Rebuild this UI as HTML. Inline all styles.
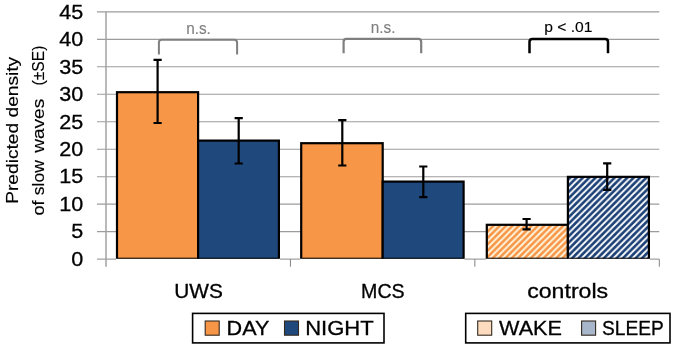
<!DOCTYPE html>
<html><head><meta charset="utf-8"><title>Predicted density of slow waves</title>
<style>
html,body{margin:0;padding:0;background:#fff;}
svg{display:block;}
text{font-family:"Liberation Sans",sans-serif;stroke-width:0.3px;}
text[fill="#000"]{stroke:#000;}
text[fill="#808080"]{stroke:#808080;}
.t{filter:grayscale(1);}
</style></head><body>
<svg width="675" height="348" viewBox="0 0 675 348">
<defs>
<pattern id="ho" patternUnits="userSpaceOnUse" x="4.8" y="0" width="6.35" height="6.35"><rect width="6.35" height="6.35" fill="#f79646"/><path d="M-1.587,1.587 L1.587,-1.587 M0,6.35 L6.35,0 M4.762,7.938 L7.938,4.762" stroke="#fff6e0" stroke-width="1.9" fill="none"/></pattern>
<pattern id="hb" patternUnits="userSpaceOnUse" x="1.7" y="0" width="6.35" height="6.35"><rect width="6.35" height="6.35" fill="#1b4076"/><path d="M-1.587,1.587 L1.587,-1.587 M0,6.35 L6.35,0 M4.762,7.938 L7.938,4.762" stroke="#ffffff" stroke-width="1.8" fill="none"/></pattern>
</defs>
<rect width="675" height="348" fill="#ffffff"/>

<line x1="97.0" y1="231.71" x2="659.3" y2="231.71" stroke="#9c9c9c" stroke-width="1.2"/>
<line x1="97.0" y1="204.22" x2="659.3" y2="204.22" stroke="#9c9c9c" stroke-width="1.2"/>
<line x1="97.0" y1="176.73" x2="659.3" y2="176.73" stroke="#9c9c9c" stroke-width="1.2"/>
<line x1="97.0" y1="149.24" x2="659.3" y2="149.24" stroke="#9c9c9c" stroke-width="1.2"/>
<line x1="97.0" y1="121.75" x2="659.3" y2="121.75" stroke="#9c9c9c" stroke-width="1.2"/>
<line x1="97.0" y1="94.26" x2="659.3" y2="94.26" stroke="#9c9c9c" stroke-width="1.2"/>
<line x1="97.0" y1="66.77" x2="659.3" y2="66.77" stroke="#9c9c9c" stroke-width="1.2"/>
<line x1="97.0" y1="39.28" x2="659.3" y2="39.28" stroke="#9c9c9c" stroke-width="1.2"/>
<line x1="97.0" y1="11.79" x2="659.3" y2="11.79" stroke="#9c9c9c" stroke-width="1.2"/>
<line x1="97.0" y1="259.09999999999997" x2="659.3" y2="259.09999999999997" stroke="#8a8a8a" stroke-width="1.0"/>
<line x1="106.0" y1="11.79" x2="106.0" y2="266.7" stroke="#a2a2a2" stroke-width="1.5"/>
<line x1="290.43" y1="259.2" x2="290.43" y2="266.7" stroke="#808080" stroke-width="1.0"/>
<line x1="474.87" y1="259.2" x2="474.87" y2="266.7" stroke="#808080" stroke-width="1.0"/>
<line x1="659.30" y1="259.2" x2="659.30" y2="266.7" stroke="#808080" stroke-width="1.0"/>
<g class="t">
<text x="83.3" y="265.70" font-size="20.3" text-anchor="end" textLength="12.0" lengthAdjust="spacingAndGlyphs" fill="#000">0</text>
<text x="83.3" y="238.29" font-size="20.3" text-anchor="end" textLength="12.0" lengthAdjust="spacingAndGlyphs" fill="#000">5</text>
<text x="83.3" y="210.88" font-size="20.3" text-anchor="end" textLength="24.0" lengthAdjust="spacingAndGlyphs" fill="#000">10</text>
<text x="83.3" y="183.47" font-size="20.3" text-anchor="end" textLength="24.0" lengthAdjust="spacingAndGlyphs" fill="#000">15</text>
<text x="83.3" y="156.06" font-size="20.3" text-anchor="end" textLength="24.0" lengthAdjust="spacingAndGlyphs" fill="#000">20</text>
<text x="83.3" y="128.65" font-size="20.3" text-anchor="end" textLength="24.0" lengthAdjust="spacingAndGlyphs" fill="#000">25</text>
<text x="83.3" y="101.24" font-size="20.3" text-anchor="end" textLength="24.0" lengthAdjust="spacingAndGlyphs" fill="#000">30</text>
<text x="83.3" y="73.83" font-size="20.3" text-anchor="end" textLength="24.0" lengthAdjust="spacingAndGlyphs" fill="#000">35</text>
<text x="83.3" y="46.42" font-size="20.3" text-anchor="end" textLength="24.0" lengthAdjust="spacingAndGlyphs" fill="#000">40</text>
<text x="83.3" y="19.01" font-size="20.3" text-anchor="end" textLength="24.0" lengthAdjust="spacingAndGlyphs" fill="#000">45</text>
</g>
<clipPath id="cp"><rect x="0" y="0" width="675" height="258.8"/></clipPath>
<rect x="116" y="255" width="163.9" height="6" fill="#fff"/><rect x="300.2" y="255" width="164.4" height="6" fill="#fff"/><rect x="485.8" y="255" width="164.1" height="6" fill="#fff"/>
<g clip-path="url(#cp)">
<rect x="117.0" y="92.20" width="81.10" height="166.60" fill="#f79646" stroke="#000" stroke-width="2.2"/>
<rect x="198.1" y="140.60" width="80.80" height="118.20" fill="#1f497d" stroke="#000" stroke-width="2.2"/>
<rect x="301.2" y="143.20" width="81.50" height="115.60" fill="#f79646" stroke="#000" stroke-width="2.2"/>
<rect x="382.7" y="181.60" width="80.90" height="77.20" fill="#1f497d" stroke="#000" stroke-width="2.2"/>
<rect x="486.8" y="224.80" width="81.10" height="34.00" fill="url(#ho)" stroke="#000" stroke-width="2.2"/>
<rect x="567.9" y="176.85" width="81.00" height="81.95" fill="url(#hb)" stroke="#000" stroke-width="2.2"/>
</g>
<path d="M157.6,59.9 L157.6,123.0 M153.5,59.9 L161.7,59.9 M153.5,123.0 L161.7,123.0" stroke="#000" stroke-width="2.2" fill="none"/>
<path d="M238.7,118.1 L238.7,163.5 M234.6,118.1 L242.79999999999998,118.1 M234.6,163.5 L242.79999999999998,163.5" stroke="#000" stroke-width="2.2" fill="none"/>
<path d="M342.3,120.1 L342.3,165.5 M338.2,120.1 L346.40000000000003,120.1 M338.2,165.5 L346.40000000000003,165.5" stroke="#000" stroke-width="2.2" fill="none"/>
<path d="M423.3,166.5 L423.3,197.2 M419.2,166.5 L427.40000000000003,166.5 M419.2,197.2 L427.40000000000003,197.2" stroke="#000" stroke-width="2.2" fill="none"/>
<path d="M526.6,219.0 L526.6,229.4 M522.5,219.0 L530.7,219.0 M522.5,229.4 L530.7,229.4" stroke="#000" stroke-width="2.2" fill="none"/>
<path d="M607.2,163.3 L607.2,189.9 M603.1,163.3 L611.3000000000001,163.3 M603.1,189.9 L611.3000000000001,189.9" stroke="#000" stroke-width="2.2" fill="none"/>
<path d="M158.9,54.4 L158.9,42.5 Q158.9,39.7 161.70000000000002,39.7 L234.29999999999998,39.7 Q237.1,39.7 237.1,42.5 L237.1,54.4" stroke="#7f7f7f" stroke-width="2.0" fill="none"/>
<path d="M343.6,53.3 L343.6,41.699999999999996 Q343.6,38.9 346.40000000000003,38.9 L418.4,38.9 Q421.2,38.9 421.2,41.699999999999996 L421.2,53.3" stroke="#7f7f7f" stroke-width="2.2" fill="none"/>
<path d="M529.5,53.3 L529.5,41.699999999999996 Q529.5,38.9 532.3,38.9 L605.2,38.9 Q608.0,38.9 608.0,41.699999999999996 L608.0,53.3" stroke="#000" stroke-width="2.5" fill="none"/>
<g class="t">
<text x="186.2" y="34.2" font-size="16.8" textLength="24.7" lengthAdjust="spacingAndGlyphs" fill="#808080" style="stroke-width:0.15px">n.s.</text>
<text x="370.8" y="32.9" font-size="16.8" textLength="24.7" lengthAdjust="spacingAndGlyphs" fill="#808080" style="stroke-width:0.15px">n.s.</text>
<text x="544.2" y="32.4" font-size="14.7" textLength="48.3" lengthAdjust="spacingAndGlyphs" fill="#000" style="stroke-width:0.12px">p &lt; .01</text>
<text x="174.2" y="298.1" font-size="19.8" textLength="48.6" lengthAdjust="spacingAndGlyphs" fill="#000">UWS</text>
<text x="361.1" y="298.3" font-size="19.8" textLength="43.6" lengthAdjust="spacingAndGlyphs" fill="#000">MCS</text>
<text x="527.2" y="298.3" font-size="19.8" textLength="81" lengthAdjust="spacingAndGlyphs" fill="#000">controls</text>
<text transform="translate(18.1,203.8) rotate(-90)" font-size="17.2" textLength="147" lengthAdjust="spacingAndGlyphs" fill="#000" style="stroke-width:0.15px">Predicted density</text>
<text transform="translate(43.9,215.6) rotate(-90)" font-size="17.2" textLength="15.2" lengthAdjust="spacingAndGlyphs" fill="#000" style="stroke-width:0.15px">of</text>
<text transform="translate(43.9,195.2) rotate(-90)" font-size="17.2" textLength="35.0" lengthAdjust="spacingAndGlyphs" fill="#000" style="stroke-width:0.15px">slow</text>
<text transform="translate(43.9,152.8) rotate(-90)" font-size="17.2" textLength="54.0" lengthAdjust="spacingAndGlyphs" fill="#000" style="stroke-width:0.15px">waves</text>
<text transform="translate(43.9,85.6) rotate(-90)" font-size="17.2" textLength="40" lengthAdjust="spacingAndGlyphs" fill="#000" style="stroke-width:0.15px">(±SE)</text>
</g>
<rect x="192.6" y="313.4" width="191.4" height="29.5" fill="#fff" stroke="#000" stroke-width="1.6"/>
<rect x="465.7" y="313.4" width="204.3" height="29.5" fill="#fff" stroke="#000" stroke-width="1.6"/>
<rect x="205.2" y="321.0" width="14" height="14.2" fill="#f79646" stroke="#33291f" stroke-width="1.1"/>
<rect x="284.5" y="321.0" width="14" height="14.2" fill="#1f497d" stroke="#33291f" stroke-width="1.1"/>
<rect x="477.7" y="321.0" width="14" height="14.2" fill="#fddbbf" stroke="#33291f" stroke-width="1.1"/>
<rect x="581.6" y="321.0" width="14" height="14.2" fill="#a7b6cb" stroke="#33291f" stroke-width="1.1"/>
<g class="t">
<text x="226.6" y="334.5" font-size="20.6" textLength="42.8" lengthAdjust="spacingAndGlyphs" fill="#000">DAY</text>
<text x="305.2" y="334.5" font-size="20.6" textLength="68.5" lengthAdjust="spacingAndGlyphs" fill="#000">NIGHT</text>
<text x="499.0" y="334.5" font-size="20.6" textLength="63" lengthAdjust="spacingAndGlyphs" fill="#000">WAKE</text>
<text x="602.0" y="334.5" font-size="20.6" textLength="61.7" lengthAdjust="spacingAndGlyphs" fill="#000">SLEEP</text>
</g>
</svg></body></html>
